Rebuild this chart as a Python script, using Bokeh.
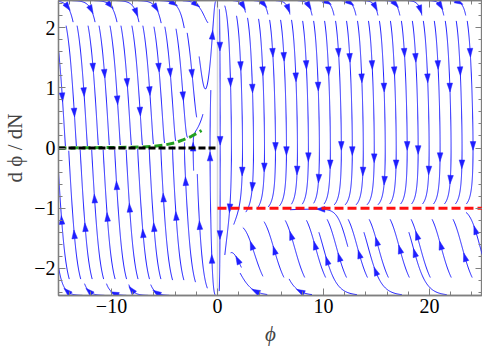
import math
import numpy as np
from bokeh.plotting import figure
from bokeh.models import LinearAxis, FixedTicker, Range1d
from bokeh.embed import file_html
from bokeh.resources import INLINE

# ---------------- data ----------------
PHI_MIN, PHI_MAX = -15.0, 25.0
V_MAX = math.sqrt(6.0)              # kinetic boundary |dphi/dN| = sqrt(6)
SLOPE_RIGHT = 1.0                   # V'/V for phi > 0  (attractor dphi/dN = -1)
CORE = 1.3                          # strength of the core term near phi = 0

X_TICKS = [-10, 0, 10, 20]
X_LABELS = ["\u221210", "0", "10", "20"]
X_MINOR = list(range(-14, 25, 2))
Y_TICKS = [-2, -1, 0, 1, 2]
Y_LABELS = ["\u22122", "\u22121", "0", "1", "2"]
Y_MINOR = [round(k * 0.2, 1) for k in range(-12, 13)]

BLACK_PHI = [-15.0, 0.0]
BLACK_Y = [0.0, 0.0]
RED_PHI = [0.0, 25.0]
RED_Y = [-1.0, -1.0]
GREEN_PHI = [-15, -12, -10, -8, -7, -6, -5, -4, -3.2, -2.5, -2.0, -1.5]
GREEN_Y = [0.0, 0.004, 0.008, 0.013, 0.018, 0.028, 0.05, 0.085, 0.14, 0.19, 0.24, 0.29]

# individual long stream lines: (phi, dphi/dN, backward time, forward time)
KEY_SEEDS = [
    (-2.3, 0.0, 0.3, 3.0),
    (11.0, -1.08, 1.0, 4.0),
]
# seed rows: (phi from, phi to, dphi/dN, spacing in px, backward time, forward time)
SEED_ROWS = [
    (-14.7, -0.4, 1.0, 11.0, 0.4, 1.1),
    (-14.7, -0.4, -1.2, 11.5, 0.4, 1.1),
    (0.25, 24.8, 0.6, 11.0, 0.35, 1.1),
    (1.5, 24.5, -1.75, 21.0, 0.4, 0.7),
    (-14.0, 24.5, 2.3, 22.0, 0.7, 1.4),
    (-14.5, -0.5, -2.3, 22.0, 0.7, 1.2),
    (3.0, 24.5, -2.3, 45.0, 0.7, 1.0),
]
FILL_SPACING = 18.0
ARROW_FRACS = [0.4, 0.62, 0.48, 0.72, 0.55, 0.35]

# ---------------- layout ----------------
W, H = 482, 348
FRAME_W, FRAME_H = 425, 288
sx = FRAME_W / (PHI_MAX - PHI_MIN)
sy = FRAME_H / (2 * V_MAX)


def field(phi, v):
    g = CORE * phi / (abs(phi) ** 3 + 1e-12) + (SLOPE_RIGHT if phi > 0 else 0.0)
    return v, -(3.0 - 0.5 * v * v) * (v + g)


def vel_px(X, Y):
    phi = X / sx + PHI_MIN
    v = Y / sy - V_MAX
    a, b = field(phi, v)
    return a * sx, b * sy


CELL = 10.0
D_TEST = 5.0
STEP = 1.0
grid = {}


def near(X, Y, dist, own=None):
    ci, cj = int(X // CELL), int(Y // CELL)
    d2 = dist * dist
    r = int(dist // CELL) + 1
    for i in range(ci - r, ci + r + 1):
        for j in range(cj - r, cj + r + 1):
            for (px, py, lid) in grid.get((i, j), ()):
                if lid == own:
                    continue
                if (px - X) ** 2 + (py - Y) ** 2 < d2:
                    return True
    return False


def trace(X, Y, sgn, lid, tmax):
    pts = []
    t = 0.0
    phi0 = X / sx + PHI_MIN
    n_steps = 0
    while t < tmax and n_steps < 1200:
        n_steps += 1
        a, b = vel_px(X, Y)
        n = math.hypot(a, b)
        if n < 1e-6:
            break
        kx, ky = sgn * a / n, sgn * b / n
        Xm, Ym = X + 0.5 * STEP * kx, Y + 0.5 * STEP * ky
        a2, b2 = vel_px(Xm, Ym)
        n2 = math.hypot(a2, b2)
        if n2 < 1e-6:
            break
        Xn, Yn = X + STEP * sgn * a2 / n2, Y + STEP * sgn * b2 / n2
        if Xn < 0 or Xn > FRAME_W:
            break
        vn = Yn / sy - V_MAX
        if abs(vn) > V_MAX - 0.002:
            break
        phin = Xn / sx + PHI_MIN
        if phin * phi0 < 0:
            break
        if near(Xn, Yn, D_TEST, own=lid):
            break
        X, Y = Xn, Yn
        pts.append((X, Y))
        t += STEP / n2
    return pts


lines = []


def add_line(X, Y, tb, tf, dsep):
    phi = X / sx + PHI_MIN
    if abs(phi) < 0.05:
        return
    if near(X, Y, dsep):
        return
    lid = len(lines)
    back = trace(X, Y, -1, lid, tb)
    fwd = trace(X, Y, 1, lid, tf)
    pts = back[::-1] + [(X, Y)] + fwd
    if len(pts) < 20:
        return
    for (px, py) in pts:
        grid.setdefault((int(px // CELL), int(py // CELL)), []).append((px, py, lid))
    lines.append(pts)


for (ph, v, tb, tf) in KEY_SEEDS:
    add_line((ph - PHI_MIN) * sx, (v + V_MAX) * sy, tb, tf, 1.0)

for (p0, p1, v, dpx, tb, tf) in SEED_ROWS:
    X = (p0 - PHI_MIN) * sx
    Xend = (p1 - PHI_MIN) * sx
    Y = (v + V_MAX) * sy
    while X <= Xend:
        add_line(X, Y, tb, tf, 7.5)
        X += dpx

for Y in np.arange(6, FRAME_H, FILL_SPACING):
    for X in np.arange(5, FRAME_W, FILL_SPACING):
        add_line(X, Y, 0.5, 0.8, 15.0)

line_xs, line_ys = [], []
arrow_xs, arrow_ys = [], []
ARROW_GAP = 100.0
for li, pts in enumerate(lines):
    arr = np.array(pts)
    line_xs.append(list(arr[:, 0] / sx + PHI_MIN))
    line_ys.append(list(arr[:, 1] / sy - V_MAX))
    L = len(arr)
    k = max(1, int(round(L / ARROW_GAP)))
    f = ARROW_FRACS[li % len(ARROW_FRACS)]
    for i in range(k):
        m = int(L * (i + f) / k)
        m = min(max(m, 2), L - 3)
        i0, i1 = m - 2, m + 2
        tx, ty = arr[i1] - arr[i0]
        tn = math.hypot(tx, ty)
        if tn == 0:
            continue
        tx, ty = tx / tn, ty / tn
        nx, ny = -ty, tx
        cx, cy = arr[m]
        tip = (cx + 4.5 * tx, cy + 4.5 * ty)
        b1 = (cx - 4.0 * tx + 2.8 * nx, cy - 4.0 * ty + 2.8 * ny)
        b2 = (cx - 4.0 * tx - 2.8 * nx, cy - 4.0 * ty - 2.8 * ny)
        tri = [tip, b1, b2]
        arrow_xs.append([q[0] / sx + PHI_MIN for q in tri])
        arrow_ys.append([q[1] / sy - V_MAX for q in tri])

# ---------------- figure ----------------
p = figure(width=W, height=H, output_backend="svg", toolbar_location=None,
           x_range=Range1d(PHI_MIN, PHI_MAX), y_range=Range1d(-V_MAX, V_MAX),
           min_border_left=55, min_border_right=0, min_border_top=0, min_border_bottom=50,
           background_fill_color="white", border_fill_color="white")
p.xgrid.visible = False
p.ygrid.visible = False
p.outline_line_color = "#7f7f7f"
p.outline_line_width = 1.3

FONT = "'Liberation Serif', 'Times New Roman', serif"
GRAY = "#7f7f7f"


def style_axis(ax, labels=True):
    ax.axis_line_color = GRAY
    ax.axis_line_width = 1.3
    ax.major_tick_line_color = GRAY
    ax.minor_tick_line_color = GRAY
    ax.major_tick_in = 7
    ax.major_tick_out = 0
    ax.minor_tick_in = 4
    ax.minor_tick_out = 0
    ax.major_label_text_font = FONT
    ax.major_label_text_font_size = "20px" if labels else "0px"
    ax.major_label_text_color = "black"
    ax.major_label_standoff = 3 if labels else 0
    ax.axis_label_text_font = FONT
    ax.axis_label_text_font_size = "21px"
    ax.axis_label_text_font_style = "normal"


p.xaxis.ticker = FixedTicker(ticks=X_TICKS, minor_ticks=X_MINOR)
p.yaxis.ticker = FixedTicker(ticks=Y_TICKS, minor_ticks=Y_MINOR)
p.xaxis.major_label_overrides = dict(zip(X_TICKS, X_LABELS))
p.yaxis.major_label_overrides = dict(zip(Y_TICKS, Y_LABELS))
style_axis(p.xaxis[0])
style_axis(p.yaxis[0])
p.xaxis.axis_label = "\u03d5"
p.xaxis.axis_label_text_font_style = "italic"
p.xaxis.axis_label_standoff = 6
p.yaxis.axis_label = "d \u03d5 / dN"
p.yaxis.axis_label_standoff = 4

top = LinearAxis(ticker=FixedTicker(ticks=X_TICKS, minor_ticks=X_MINOR))
style_axis(top, labels=False)
top.major_label_overrides = {t: "" for t in X_TICKS}
p.add_layout(top, "above")
right = LinearAxis(ticker=FixedTicker(ticks=Y_TICKS, minor_ticks=Y_MINOR))
style_axis(right, labels=False)
right.major_label_overrides = {t: "" for t in Y_TICKS}
p.add_layout(right, "right")

# vertical gray line at phi = 0
p.line([0, 0], [-V_MAX, V_MAX], line_color="#d8d8d8", line_width=1.5)

BLUE = "#1f1fff"
p.multi_line(line_xs, line_ys, line_color=BLUE, line_width=1.0)
p.patches(arrow_xs, arrow_ys, fill_color=BLUE, line_color=BLUE, line_width=0.5)

p.line(GREEN_PHI, GREEN_Y, line_color="#23a023", line_width=3, line_dash="8 4")
p.line(BLACK_PHI, BLACK_Y, line_color="black", line_width=3, line_dash="7 3")
p.line(RED_PHI, RED_Y, line_color="#ff1010", line_width=3, line_dash="9 4")

open("out.html", "w").write(file_html(p, INLINE))
